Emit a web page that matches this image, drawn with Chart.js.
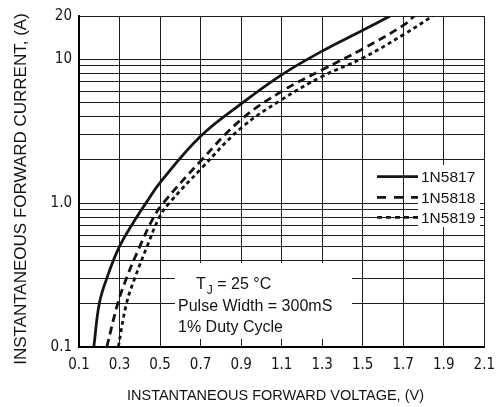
<!DOCTYPE html>
<html>
<head>
<meta charset="utf-8">
<script src="https://cdn.jsdelivr.net/npm/chart.js@4.4.0/dist/chart.umd.min.js"></script>
<style>
  html, body { margin: 0; padding: 0; background: #fff; }
  #contenedor { width: 504px; height: 407px; }
</style>
</head>
<body>
<div id="contenedor"><canvas id="grafica"></canvas></div>
<script>
// valores: voltaje (V) y corriente (A)
const voltaje1N5817 = [0.173, 0.20, 0.237, 0.30, 0.385, 0.43, 0.50, 0.70, 0.90, 1.10, 1.30, 1.50, 1.635]
const corriente1N5817 = [0.1, 0.2, 0.3, 0.5, 0.8, 1.0, 1.39, 2.92, 4.9, 7.8, 11.4, 15.9, 20]

const voltaje1N5818 = [0.237, 0.291, 0.334, 0.40, 0.469, 0.515, 0.70, 0.90, 1.10, 1.30, 1.50, 1.70, 1.755]
const corriente1N5818 = [0.1, 0.2, 0.3, 0.5, 0.8, 1.0, 1.96, 3.81, 5.98, 8.45, 11.8, 17.2, 20]

const voltaje1N5819 = [0.294, 0.334, 0.375, 0.436, 0.497, 0.545, 0.70, 0.90, 1.10, 1.30, 1.50, 1.70, 1.846]
const corriente1N5819 = [0.1, 0.2, 0.3, 0.5, 0.8, 1.0, 1.72, 3.33, 5.24, 7.6, 10.2, 14.8, 20]

const diodos = ['1N5817', '1N5818', '1N5819']

// marcas de los ejes
const ticksX = [0.1, 0.3, 0.5, 0.7, 0.9, 1.1, 1.3, 1.5, 1.7, 1.9, 2.1]
const lineasY = [0.1, 0.2, 0.3, 0.4, 0.5, 0.6, 0.7, 0.8, 0.9, 1, 2, 3, 4, 5, 6, 7, 8, 9, 10, 20]
const valoresEtiquetaY = [0.1, 1, 10, 20]
const textosEtiquetaY = ['0.1', '1.0', '10', '20']

const tituloX = 'INSTANTANEOUS FORWARD VOLTAGE, (V)'
const tituloY = 'INSTANTANEOUS FORWARD CURRENT, (A)'
const notas = ['Pulse Width = 300mS', '1% Duty Cycle']

const aPuntos = (vs, is) => vs.map((v, i) => ({ x: v, y: is[i] }))

const fuenteEstrecha = '"Liberation Sans Narrow", "DejaVu Sans Condensed", sans-serif'
const fuenteNormal = '"Liberation Sans", Arial, sans-serif'
const tinta = '#141414'

const estilos = [[], [8, 5], [4, 3.5]]

const data = {
    datasets: [
        { label: diodos[0], data: aPuntos(voltaje1N5817, corriente1N5817) },
        { label: diodos[1], data: aPuntos(voltaje1N5818, corriente1N5818) },
        { label: diodos[2], data: aPuntos(voltaje1N5819, corriente1N5819) }
    ].map((d, i) => ({
        ...d,
        borderColor: tinta,
        borderWidth: 2.8,
        borderDash: estilos[i],
        pointRadius: 0,
        tension: 0.4,
        fill: false
    }))
}

// cajas blancas, leyenda y textos
const anotaciones = {
    id: 'anotaciones',
    beforeDatasetsDraw(chart) {
        const ctx = chart.ctx
        ctx.save()
        ctx.fillStyle = '#fff'
        ctx.fillRect(175, 263, 177, 76)
        ctx.fillRect(418, 165, 62, 62)

        // leyenda
        const filas = [176.7, 197.3, 217.3]
        ctx.font = '15.5px ' + fuenteNormal
        ctx.textBaseline = 'middle'
        filas.forEach((yy, i) => {
            ctx.strokeStyle = tinta
            ctx.lineWidth = 2.8
            ctx.setLineDash(i === 1 ? [9, 8] : (i === 2 ? [5, 4] : []))
            ctx.beginPath()
            ctx.moveTo(377, yy)
            ctx.lineTo(418, yy)
            ctx.stroke()
            ctx.fillStyle = tinta
            ctx.fillText(diodos[i], 421, yy + 1)
        })
        ctx.setLineDash([])

        // condiciones de prueba
        ctx.textBaseline = 'alphabetic'
        ctx.fillStyle = tinta
        ctx.font = '16px ' + fuenteNormal
        let x = 196
        ctx.fillText('T', x, 289)
        x += ctx.measureText('T').width + 1
        ctx.font = '12px ' + fuenteNormal
        ctx.fillText('J', x, 294)
        x += ctx.measureText('J').width
        ctx.font = '16px ' + fuenteNormal
        ctx.fillText(' = 25 \u00B0C', x, 289)
        ctx.fillText(notas[0], 178, 311)
        ctx.fillText(notas[1], 178, 332)
        ctx.restore()
    },
    afterDraw(chart) {
        const ctx = chart.ctx
        ctx.save()
        ctx.fillStyle = tinta
        ctx.textAlign = 'center'
        ctx.textBaseline = 'middle'
        ctx.font = '14.5px ' + fuenteNormal
        ctx.fillText(tituloX, 275.5, 395.5)
        ctx.translate(21.5, 189)
        ctx.rotate(-Math.PI / 2)
        ctx.font = '17px ' + fuenteNormal
        ctx.fillText(tituloY, 0, 0)
        ctx.restore()
    }
}

const config = {
    type: 'line',
    data: data,
    options: {
        responsive: true,
        maintainAspectRatio: false,
        animation: false,
        layout: { padding: { top: 13, right: 13, left: 0, bottom: 0 } },
        plugins: { legend: { display: false }, tooltip: { enabled: false } },
        scales: {
            x: {
                type: 'linear',
                min: 0.1,
                max: 2.1,
                afterBuildTicks: s => { s.ticks = ticksX.map(v => ({ value: v })) },
                afterFit: s => { s.height = 60 },
                grid: { color: '#1e1e1e', lineWidth: 1, drawTicks: false },
                border: { color: '#000', width: 2 },
                ticks: {
                    autoSkip: false,
                    maxRotation: 0,
                    padding: 9,
                    color: tinta,
                    font: { family: fuenteEstrecha, size: 15 },
                    callback: v => v.toFixed(1)
                }
            },
            y: {
                type: 'logarithmic',
                min: 0.1,
                max: 20,
                afterBuildTicks: s => { s.ticks = lineasY.map(v => ({ value: v })) },
                afterFit: s => { s.width = 79 },
                grid: { color: '#1e1e1e', lineWidth: 1, drawTicks: false },
                border: { color: '#000', width: 2 },
                ticks: {
                    autoSkip: false,
                    padding: 7,
                    color: tinta,
                    font: { family: fuenteEstrecha, size: 15 },
                    callback: v => {
                        const k = valoresEtiquetaY.findIndex(e => Math.abs(e - v) < 1e-9)
                        return k >= 0 ? textosEtiquetaY[k] : ''
                    }
                }
            }
        }
    },
    plugins: [anotaciones]
}

var grafica = new Chart(document.getElementById('grafica'), config)
</script>
</body>
</html>
